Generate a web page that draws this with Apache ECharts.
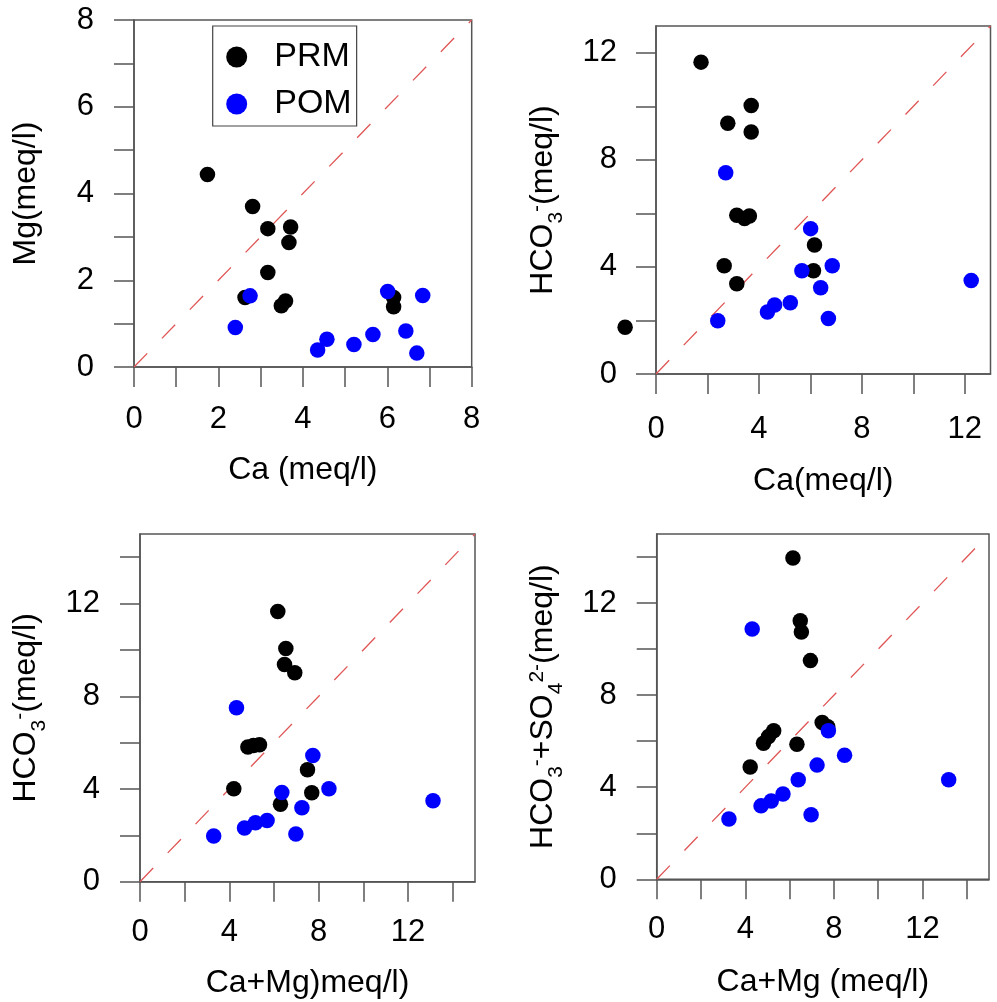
<!DOCTYPE html>
<html>
<head>
<meta charset="utf-8">
<script src="https://cdn.jsdelivr.net/npm/echarts@6/dist/echarts.min.js"></script>
<style>
  html, body { margin: 0; padding: 0; background: #ffffff; }
  #chart { width: 997px; height: 1002px; }
</style>
</head>
<body>
<div id="chart"></div>
<script>
// ---- Panel A: Mg vs Ca ----
const prmCaA  = [1.74, 2.81, 3.17, 3.71, 3.67, 3.17, 2.63, 3.49, 3.59, 6.15, 6.15];
const prmMgA  = [4.44, 3.70, 3.19, 3.23, 2.87, 2.18, 1.60, 1.41, 1.52, 1.60, 1.39];
const pomCaA  = [2.75, 2.40, 4.35, 4.57, 5.21, 5.66, 6.01, 6.44, 6.70, 6.84];
const pomMgA  = [1.64, 0.91, 0.39, 0.64, 0.52, 0.75, 1.74, 0.83, 0.32, 1.65];

// ---- Panel B: HCO3- vs Ca ----
const prmCaB   = [1.75, 3.70, 2.79, 3.70, 3.14, 3.44, 3.63, 6.16, 6.12, 2.65, 3.14, -1.2];
const prmHco3B = [11.65, 10.03, 9.37, 9.04, 5.93, 5.81, 5.90, 4.82, 3.86, 4.04, 3.37, 1.75];
const pomCaB   = [2.71, 6.01, 6.85, 5.67, 6.40, 5.22, 4.61, 4.33, 2.40, 6.70, 12.25];
const pomHco3B = [7.52, 5.43, 4.04, 3.86, 3.22, 2.66, 2.58, 2.32, 1.99, 2.07, 3.49];

// ---- Panel C: HCO3- vs Ca+Mg ----
const prmCaMgC = [6.17, 6.53, 6.47, 6.93, 4.83, 5.08, 5.35, 7.50, 7.69, 4.20, 6.29];
const prmHco3C = [11.66, 10.06, 9.37, 9.01, 5.81, 5.88, 5.91, 4.83, 3.84, 4.01, 3.34];
const pomCaMgC = [4.32, 7.74, 8.46, 6.35, 7.25, 5.69, 5.17, 4.68, 3.30, 6.98, 13.12];
const pomHco3C = [7.50, 5.44, 4.01, 3.85, 3.19, 2.64, 2.54, 2.32, 1.97, 2.06, 3.49];

// ---- Panel D: HCO3- + SO4 2- vs Ca+Mg ----
const prmCaMgD = [6.15, 6.48, 6.53, 6.94, 7.47, 7.72, 5.28, 5.05, 4.82, 6.33, 4.22];
const prmSumD  = [13.96, 11.23, 10.74, 9.50, 6.81, 6.63, 6.45, 6.20, 5.91, 5.87, 4.88];
const pomCaMgD = [4.31, 7.75, 8.48, 7.24, 6.39, 5.70, 5.17, 4.71, 3.26, 6.97, 13.18];
const pomSumD  = [10.87, 6.45, 5.39, 4.96, 4.32, 3.71, 3.40, 3.19, 2.62, 2.80, 4.32];

// ---- Axis ticks and labels ----
const ticksA  = [0, 1, 2, 3, 4, 5, 6, 7, 8];
const labelsA = [0, 2, 4, 6, 8];
const ticksB  = [0, 2, 4, 6, 8, 10, 12];
const labelsB = [0, 4, 8, 12];
const ticksCD  = [0, 2, 4, 6, 8, 10, 12, 14];
const labelsCD = [0, 4, 8, 12];

const FONT = '"Liberation Sans", Arial, Helvetica, sans-serif';
const AXIS_COLOR = '#555555';

function pairs(xs, ys) { return xs.map((x, i) => [x, ys[i]]); }

// rich styles for the rotated y titles: main text, subscript, superscript
const rich = {
  m: { fontSize: 32, lineHeight: 40, verticalAlign: 'top', fontFamily: FONT, color: '#000' },
  s: { fontSize: 21, lineHeight: 21, verticalAlign: 'bottom', fontFamily: FONT, color: '#000' },
  p: { fontSize: 21, lineHeight: 21, verticalAlign: 'top', fontFamily: FONT, color: '#000' }
};

function makeAxis(idx, max, ticks, labels, name, nameGap, labelMargin, isY) {
  return {
    type: 'value', gridIndex: idx, min: 0, max: max,
    axisLine: { show: true, onZero: false, lineStyle: { color: AXIS_COLOR, width: 1.5 } },
    axisTick: { show: true, length: 20, customValues: ticks, lineStyle: { color: AXIS_COLOR, width: 1.5 } },
    axisLabel: { customValues: labels, margin: labelMargin, fontSize: 31, color: '#000', fontFamily: FONT },
    splitLine: { show: false },
    name: name, nameLocation: 'middle', nameGap: nameGap,
    nameTextStyle: isY ? { rich: rich } : { fontSize: 32, color: '#000', fontFamily: FONT }
  };
}

const grids = [
  { left: 134,   top: 20,  width: 337.7, height: 347 },
  { left: 656,   top: 26,  width: 334.5, height: 348 },
  { left: 140,   top: 534, width: 335,   height: 347.7 },
  { left: 656.7, top: 534, width: 332.3, height: 345.3 }
].map(g => Object.assign({ show: true, borderColor: AXIS_COLOR, borderWidth: 1.5, backgroundColor: '#fff', containLabel: false, outerBoundsMode: 'none' }, g));

const xAxes = [
  makeAxis(0, 8,  ticksA,  labelsA,  'Ca (meq/l)',   87, 37, false),
  makeAxis(1, 13, ticksB,  labelsB,  'Ca(meq/l)',    91, 40, false),
  makeAxis(2, 15, ticksCD, labelsCD, 'Ca+Mg)meq/l)', 85, 35, false),
  makeAxis(3, 15, ticksCD, labelsCD, 'Ca+Mg (meq/l)',87, 35, false)
];
const yAxes = [
  makeAxis(0, 8,  ticksA,  labelsA,  '{m|Mg(meq/l)}', 84, 40, true),
  makeAxis(1, 13, ticksB,  labelsB,  '{m|HCO}{s|3}{p|-}{m|(meq/l)}', 89, 39, true),
  makeAxis(2, 15, ticksCD, labelsCD, '{m|HCO}{s|3}{p|-}{m|(meq/l)}', 90, 40, true),
  makeAxis(3, 15, ticksCD, labelsCD, '{m|HCO}{s|3}{p|-}{m|+SO}{s|4}{p|2-}{m|(meq/l)}', 90, 40, true)
];

const panels = [
  { prm: pairs(prmCaA, prmMgA),   pom: pairs(pomCaA, pomMgA),   max: 8 },
  { prm: pairs(prmCaB, prmHco3B), pom: pairs(pomCaB, pomHco3B), max: 13 },
  { prm: pairs(prmCaMgC, prmHco3C), pom: pairs(pomCaMgC, pomHco3C), max: 15 },
  { prm: pairs(prmCaMgD, prmSumD),  pom: pairs(pomCaMgD, pomSumD),  max: 15 }
];

const series = [];
panels.forEach((p, i) => {
  // 1:1 reference line
  series.push({
    type: 'line', xAxisIndex: i, yAxisIndex: i, silent: true, symbol: 'none',
    data: [[0, 0], [p.max, p.max]],
    lineStyle: { color: '#e05555', width: 1.3, type: [19, 21] }, z: 1
  });
  series.push({
    name: 'PRM', type: 'scatter', xAxisIndex: i, yAxisIndex: i,
    data: p.prm, symbol: 'circle', symbolSize: 15.5, clip: false,
    itemStyle: { color: '#000000', opacity: 1 }, z: 2
  });
  series.push({
    name: 'POM', type: 'scatter', xAxisIndex: i, yAxisIndex: i,
    data: p.pom, symbol: 'circle', symbolSize: 15.5, clip: false,
    itemStyle: { color: '#0000ff', opacity: 1 }, z: 3
  });
});

const chart = echarts.init(document.getElementById('chart'), null, { renderer: 'canvas' });
chart.setOption({
  animation: false,
  backgroundColor: '#ffffff',
  grid: grids,
  xAxis: xAxes,
  yAxis: yAxes,
  legend: {
    data: ['PRM', 'POM'], orient: 'vertical', left: 212.7, top: 26,
    icon: 'circle', itemWidth: 21, itemHeight: 21, itemGap: 13,
    padding: [14, 5, 5, 13.5],
    borderColor: '#444444', borderWidth: 1.2, backgroundColor: '#ffffff',
    selectedMode: false,
    textStyle: { fontSize: 34, color: '#000', fontFamily: FONT, padding: [0, 0, 0, 22] }
  },
  series: series
});
</script>
</body>
</html>
